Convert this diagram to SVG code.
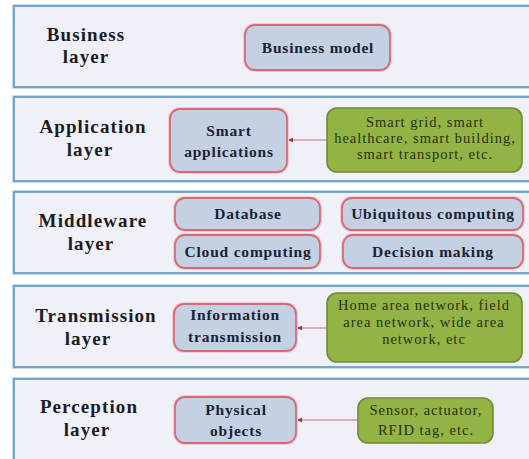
<svg xmlns="http://www.w3.org/2000/svg" width="529" height="459" viewBox="0 0 529 459">
<defs>
<style>
.panel-glow{fill:none;stroke:#bfdcf0;stroke-width:4}
.panel{fill:#eff0f8;stroke:#5f97c2;stroke-width:1.6}
text{font-family:'Liberation Serif','Times New Roman',Times,serif}
.lbl{font-weight:bold;font-size:19px;letter-spacing:1.1px;fill:#1c1c24;text-anchor:middle}
.bhalo{fill:none;stroke:#f4cdd3;stroke-width:4}
.bbox{fill:#c4d1e3;stroke:#d46a7a;stroke-width:1.8}
.btxt{font-weight:bold;font-size:15.5px;letter-spacing:0.8px;fill:#1b2233;text-anchor:middle}
.gbox{fill:#93b444;stroke:#6f8b37;stroke-width:1.6}
.gtxt{font-size:14.5px;letter-spacing:1px;fill:#26300f;text-anchor:middle}
.conn{fill:none;stroke:#c86a76;stroke-width:1;marker-end:url(#ah)}
</style>
<marker id="ah" viewBox="0 0 10 10" refX="9" refY="5" markerWidth="6" markerHeight="6" orient="auto" markerUnits="userSpaceOnUse">
<path d="M0,1 L10,5 L0,9 Z" fill="#a8323f"/>
</marker>
</defs>

<g id="panels">
<rect class="panel-glow" x="14" y="6" width="530" height="81"/>
<rect class="panel" x="14" y="6" width="530" height="81"/>
<rect class="panel-glow" x="14" y="97" width="530" height="84"/>
<rect class="panel" x="14" y="97" width="530" height="84"/>
<rect class="panel-glow" x="14" y="192" width="530" height="81"/>
<rect class="panel" x="14" y="192" width="530" height="81"/>
<rect class="panel-glow" x="14" y="286" width="530" height="81"/>
<rect class="panel" x="14" y="286" width="530" height="81"/>
<rect class="panel-glow" x="14" y="379" width="530" height="95"/>
<rect class="panel" x="14" y="379" width="530" height="95"/>
</g>

<g id="business-layer">
<text class="lbl" x="86" y="41">Business</text>
<text class="lbl" x="86" y="63">layer</text>
</g>
<g id="application-layer">
<text class="lbl" x="93" y="133">Application</text>
<text class="lbl" x="90" y="156">layer</text>
</g>
<g id="middleware-layer">
<text class="lbl" x="93" y="227">Middleware</text>
<text class="lbl" x="91" y="250">layer</text>
</g>
<g id="transmission-layer">
<text class="lbl" x="96" y="322">Transmission</text>
<text class="lbl" x="88" y="345">layer</text>
</g>
<g id="perception-layer">
<text class="lbl" x="89" y="413">Perception</text>
<text class="lbl" x="87" y="436">layer</text>
</g>

<g id="connectors">
<line class="conn" x1="327" y1="140" x2="288" y2="140"/>
<line class="conn" x1="327" y1="328" x2="297" y2="328"/>
<line class="conn" x1="358" y1="420" x2="297" y2="420"/>
</g>

<g id="business-model">
<rect class="bhalo" x="245" y="25" width="145" height="45" rx="10"/>
<rect class="bbox" x="245" y="25" width="145" height="45" rx="10"/>
<text class="btxt" x="318" y="53">Business model</text>
</g>

<g id="smart-applications">
<rect class="bhalo" x="170" y="109" width="117" height="63" rx="10"/>
<rect class="bbox" x="170" y="109" width="117" height="63" rx="10"/>
<text class="btxt" x="229" y="136">Smart</text>
<text class="btxt" x="229" y="157">applications</text>
</g>
<g id="smart-examples">
<rect class="gbox" x="327" y="108" width="195" height="64" rx="10"/>
<text class="gtxt" x="425" y="127">Smart grid, smart</text>
<text class="gtxt" x="425" y="143">healthcare, smart building,</text>
<text class="gtxt" x="425" y="159">smart transport, etc.</text>
</g>

<g id="database">
<rect class="bhalo" x="175" y="198" width="145" height="32" rx="10"/>
<rect class="bbox" x="175" y="198" width="145" height="32" rx="10"/>
<text class="btxt" x="248" y="219">Database</text>
</g>
<g id="cloud-computing">
<rect class="bhalo" x="175" y="235" width="145" height="33" rx="10"/>
<rect class="bbox" x="175" y="235" width="145" height="33" rx="10"/>
<text class="btxt" x="248" y="257">Cloud computing</text>
</g>
<g id="ubiquitous-computing">
<rect class="bhalo" x="342" y="198" width="181" height="32" rx="10"/>
<rect class="bbox" x="342" y="198" width="181" height="32" rx="10"/>
<text class="btxt" x="433" y="219">Ubiquitous computing</text>
</g>
<g id="decision-making">
<rect class="bhalo" x="343" y="235" width="180" height="33" rx="10"/>
<rect class="bbox" x="343" y="235" width="180" height="33" rx="10"/>
<text class="btxt" x="433" y="257">Decision making</text>
</g>

<g id="information-transmission">
<rect class="bhalo" x="174" y="304" width="122" height="47" rx="10"/>
<rect class="bbox" x="174" y="304" width="122" height="47" rx="10"/>
<text class="btxt" x="235" y="320">Information</text>
<text class="btxt" x="235" y="342">transmission</text>
</g>
<g id="network-examples">
<rect class="gbox" x="327" y="293" width="195" height="69" rx="10"/>
<text class="gtxt" x="424" y="310">Home area network, field</text>
<text class="gtxt" x="424" y="327">area network, wide area</text>
<text class="gtxt" x="424" y="344">network, etc</text>
</g>

<g id="physical-objects">
<rect class="bhalo" x="175" y="397" width="121" height="46" rx="10"/>
<rect class="bbox" x="175" y="397" width="121" height="46" rx="10"/>
<text class="btxt" x="236" y="415">Physical</text>
<text class="btxt" x="236" y="436">objects</text>
</g>
<g id="sensor-examples">
<rect class="gbox" x="358" y="398" width="135" height="45" rx="10"/>
<text class="gtxt" x="426" y="415">Sensor, actuator,</text>
<text class="gtxt" x="426" y="435">RFID tag, etc.</text>
</g>
</svg>
